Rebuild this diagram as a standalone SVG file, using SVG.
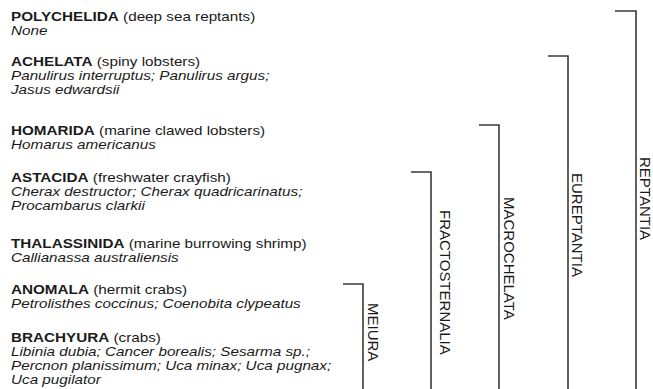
<svg xmlns="http://www.w3.org/2000/svg" width="653" height="389" viewBox="0 0 653 389">
<style>
  .t { font-family: "Liberation Sans", Arial, Helvetica, sans-serif; font-size: 13.5px; fill: #1a1a1a; }
  .b { font-weight: bold; }
  .i { font-style: italic; }
  .lab { font-family: "Liberation Sans", Arial, Helvetica, sans-serif; font-size: 15px; fill: #1a1a1a; }
  .br { fill: none; stroke: #3a3a3a; stroke-width: 1.6; }
</style>
<rect width="653" height="389" fill="#ffffff"/>

<g id="polychelida" transform="translate(11,0) scale(1.13,1)">
  <text class="t" y="21"><tspan class="b">POLYCHELIDA</tspan> (deep sea reptants)</text>
  <text class="t i" y="35">None</text>
</g>
<g id="achelata" transform="translate(11,0) scale(1.13,1)">
  <text class="t" y="66"><tspan class="b">ACHELATA</tspan> (spiny lobsters)</text>
  <text class="t i" y="80">Panulirus interruptus; Panulirus argus;</text>
  <text class="t i" y="94">Jasus edwardsii</text>
</g>
<g id="homarida" transform="translate(11,0) scale(1.13,1)">
  <text class="t" y="135"><tspan class="b">HOMARIDA</tspan> (marine clawed lobsters)</text>
  <text class="t i" y="149">Homarus americanus</text>
</g>
<g id="astacida" transform="translate(11,0) scale(1.13,1)">
  <text class="t" y="182"><tspan class="b">ASTACIDA</tspan> (freshwater crayfish)</text>
  <text class="t i" y="196">Cherax destructor; Cherax quadricarinatus;</text>
  <text class="t i" y="210">Procambarus clarkii</text>
</g>
<g id="thalassinida" transform="translate(11,0) scale(1.13,1)">
  <text class="t" y="248"><tspan class="b">THALASSINIDA</tspan> (marine burrowing shrimp)</text>
  <text class="t i" y="262">Callianassa australiensis</text>
</g>
<g id="anomala" transform="translate(11,0) scale(1.13,1)">
  <text class="t" y="294"><tspan class="b">ANOMALA</tspan> (hermit crabs)</text>
  <text class="t i" y="308">Petrolisthes coccinus; Coenobita clypeatus</text>
</g>
<g id="brachyura" transform="translate(11,0) scale(1.13,1)">
  <text class="t" y="342"><tspan class="b">BRACHYURA</tspan> (crabs)</text>
  <text class="t i" y="356">Libinia dubia; Cancer borealis; Sesarma sp.;</text>
  <text class="t i" y="370">Percnon planissimum; Uca minax; Uca pugnax;</text>
  <text class="t i" y="384">Uca pugilator</text>
</g>

<g id="connectors">
  <path class="br" d="M615,11 H636 V389"/>
  <path class="br" d="M548,56 H568 V389"/>
  <path class="br" d="M479,125 H499 V389"/>
  <path class="br" d="M411,172 H431 V389"/>
  <path class="br" d="M343,284 H363 V389"/>
</g>

<g id="reptantia"><text class="lab" transform="translate(640,157) rotate(90)">REPTANTIA</text></g>
<g id="eureptantia"><text class="lab" transform="translate(572,173) rotate(90)">EUREPTANTIA</text></g>
<g id="macrochelata"><text class="lab" transform="translate(504,197) rotate(90)">MACROCHELATA</text></g>
<g id="fractosternalia"><text class="lab" transform="translate(440,210) rotate(90)">FRACTOSTERNALIA</text></g>
<g id="meiura"><text class="lab" transform="translate(368,303) rotate(90)">MEIURA</text></g>
</svg>
